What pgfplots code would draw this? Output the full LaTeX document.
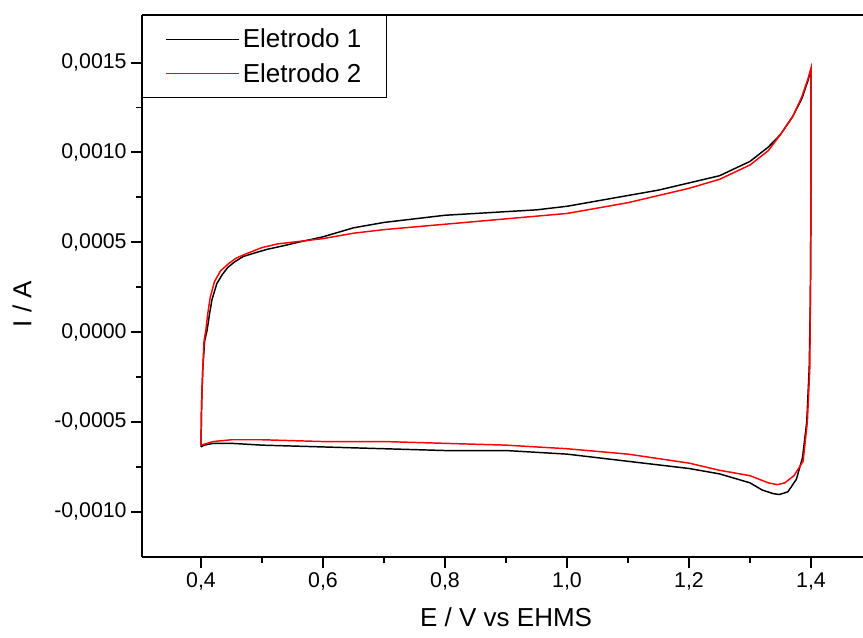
\documentclass[border=0pt]{standalone}
\usepackage{fontspec}
\setmainfont{Liberation Sans}
\usepackage{pgfplots}
\pgfplotsset{compat=1.18}
\definecolor{cvred}{RGB}{255,0,0}
\begin{document}
\begin{tikzpicture}
\begin{axis}[
 at={(0pt,0pt)}, anchor=south west,
 scale only axis, width=540.75pt, height=406.5pt,
 xmin=0.3033, xmax=1.4852, ymin=-0.0012528, ymax=0.001765,
 axis x line*=box, axis y line*=left,
 axis line style={line width=1.4pt},
 xtick pos=bottom, ytick pos=left,
 tick align=outside,
 major tick length=8pt, minor tick length=4.5pt,
 every tick/.style={black, line width=1.4pt},
 minor tick num=1,
 xtick={0.4,0.6,0.8,1.0,1.2,1.4},
 xticklabels={{0,4},{0,6},{0,8},{1,0},{1,2},{1,4}},
 ytick={-0.001,-0.0005,0,0.0005,0.001,0.0015},
 yticklabels={{-0,0010},{-0,0005},{0,0000},{0,0005},{0,0010},{0,0015}},
 scaled ticks=false,
 ticklabel style={font=\fontsize{16}{19}\selectfont},
 xlabel={E / V vs EHMS},
 ylabel={I / A},
 label style={font=\fontsize{19.5}{23}\selectfont},
 xlabel style={at={(axis description cs:0.505,-0.112)}, anchor=center},
 ylabel style={at={(axis description cs:-0.1664,0.467)}, anchor=center, rotate=0},
 legend style={at={(0,1)}, anchor=north west, draw=black, line width=1.1pt,
   font=\fontsize{19.5}{23}\selectfont, inner xsep=17pt, inner ysep=8pt,
   row sep=6pt},
 legend cell align=left,
 legend image code/.code={\draw[#1, line width=1pt] (0pt,0pt) -- (51pt,0pt); \path (0pt,0pt) -- (55pt,0pt);},
 clip=false,
]
\addplot[black, line width=1.1pt] coordinates {
(0.400,-0.00064) (0.401,-0.0004) (0.403,-0.0002) (0.406,-0.00005) (0.410,0.00001)
(0.414,0.0001) (0.418,0.00018) (0.426,0.00027) (0.435,0.00032) (0.444,0.00036)
(0.455,0.00039) (0.469,0.00042) (0.488,0.00044) (0.508,0.00046) (0.535,0.00048)
(0.56,0.0005) (0.6,0.00053) (0.65,0.00058)
(0.7,0.00061) (0.75,0.00063) (0.8,0.00065) (0.85,0.00066) (0.9,0.00067)
(0.95,0.00068) (1.0,0.0007) (1.05,0.00073) (1.1,0.00076) (1.15,0.00079)
(1.2,0.00083) (1.25,0.00087) (1.3,0.00095) (1.33,0.00103) (1.35,0.0011)
(1.37,0.0012) (1.385,0.0013) (1.395,0.0014) (1.4,0.00146)
(1.4,0.0008) (1.399,0.0002) (1.397,-0.0002) (1.393,-0.0005) (1.386,-0.0007)
(1.376,-0.00082) (1.362,-0.00089) (1.348,-0.000905) (1.338,-0.0009) (1.32,-0.00088)
(1.3,-0.00084) (1.25,-0.00079) (1.2,-0.00076) (1.1,-0.00072) (1.0,-0.00068)
(0.95,-0.00067) (0.9,-0.00066) (0.85,-0.00066) (0.8,-0.00066) (0.7,-0.00065)
(0.6,-0.00064) (0.5,-0.00063) (0.45,-0.00062) (0.42,-0.00062) (0.405,-0.00063)
(0.4,-0.00064)
};
\addlegendentry{Eletrodo 1}
\addplot[cvred, line width=1.1pt] coordinates {
(0.4,-0.00063) (0.401,-0.0004) (0.403,-0.0002) (0.405,-0.00005) (0.408,0.00001)
(0.411,0.0001) (0.415,0.00019) (0.422,0.00028) (0.432,0.00034) (0.445,0.00038)
(0.457,0.00041) (0.47,0.00043) (0.485,0.00045) (0.5,0.00047) (0.525,0.00049)
(0.55,0.0005) (0.6,0.00052) (0.65,0.00055)
(0.7,0.00057) (0.8,0.0006) (0.9,0.00063) (1.0,0.00066) (1.1,0.00072)
(1.2,0.0008) (1.25,0.00085) (1.3,0.00093) (1.33,0.00101) (1.35,0.0011)
(1.37,0.0012) (1.385,0.00131) (1.395,0.00141) (1.4,0.00147)
(1.4,0.0008) (1.399,0.0002) (1.398,-0.0002) (1.394,-0.0005) (1.387,-0.00072)
(1.372,-0.0008) (1.357,-0.00084) (1.345,-0.00085) (1.33,-0.00084) (1.3,-0.0008)
(1.25,-0.00077) (1.2,-0.00073) (1.1,-0.00068) (1.0,-0.00065) (0.9,-0.00063)
(0.8,-0.00062) (0.7,-0.00061) (0.6,-0.00061) (0.5,-0.0006) (0.45,-0.0006)
(0.42,-0.00061) (0.4,-0.00063)
};
\addlegendentry{Eletrodo 2}
\end{axis}
\pgfresetboundingbox
\path (-106.5pt,-60.75pt) rectangle (540.75pt,417.75pt);
\end{tikzpicture}
\end{document}
